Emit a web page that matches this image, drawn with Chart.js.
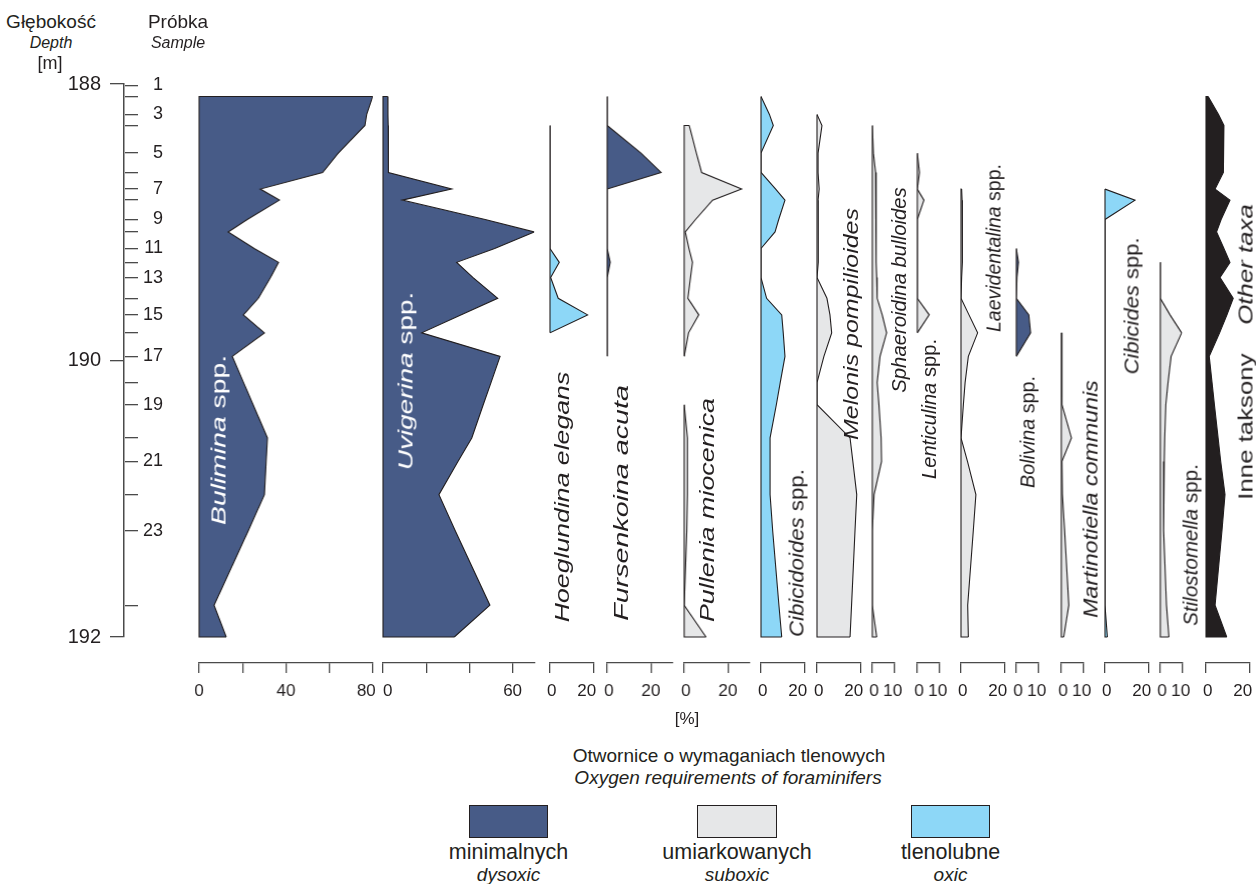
<!DOCTYPE html>
<html>
<head>
<meta charset="utf-8">
<script src="https://cdn.jsdelivr.net/npm/chart.js@4.4.1/dist/chart.umd.min.js"></script>
<style>
  html, body { margin: 0; padding: 0; background: #ffffff; }
  #page { position: relative; width: 1256px; height: 884px; overflow: hidden;
          font-family: "Liberation Sans", Arial, Helvetica, sans-serif; color: #231f20; }
  .box { position: absolute; }
  .txt { position: absolute; white-space: nowrap; line-height: 1; transform: translate(-50%, -50%); }
  .rot { position: absolute; white-space: nowrap; line-height: 1; }
  .swatch { position: absolute; border: 1px solid #231f20; box-sizing: border-box; }
</style>
</head>
<body>
<div id="page"></div>
<script>
// ---------------------------------------------------------------------------
// Data
// ---------------------------------------------------------------------------
// Sample numbers and their depths in metres
const sampleNumbers = [1, 2, 3, 4, 5, 6, 7, 8, 9, 10, 11, 12, 13, 14, 15, 16, 17, 18, 19, 20, 21, 22, 23, 24];
const sampleDepths  = [188.01, 188.09, 188.22, 188.30, 188.50, 188.64, 188.76, 188.84, 188.98, 189.07,
                       189.19, 189.29, 189.40, 189.55, 189.67, 189.80, 189.97, 190.16, 190.32, 190.56,
                       190.73, 190.97, 191.23, 191.77];
// Depth ticks of the main axis [m]
const depthTicks = [188, 190, 192];
// Levels at which the percentage curves are plotted: samples 2-24 and the base of the section
const baseDepth = 192.0;
const levelDepths = sampleDepths.slice(1).concat([baseDepth]);

// Percentages of taxa [%] at each level (null = not plotted)
const bulimina       = [80, 77.2, 76.4, 64.1, 56.9, 28.2, 37.0, 22.2, 13.4, 25.4, 36.6, 32.9, 27.3, 20.4, 30.1, 15.3, 20.5, 24.9, 31.5, 30.9, 30.1, 22.7, 6.9, 12.5];
const uvigerina      = [2.2, 2.3, 2.4, 2.5, 2.5, 31.8, 8.9, 47.3, 70.0, 51.7, 34.1, 41.7, 53.1, 36.0, 17.9, 54.2, 50.0, 46.4, 41.1, 34.7, 25.9, 33.4, 49.5, 33.0];
const hoeglundina    = [null, null, 0, 0, 0, 0, 0, 0, 0, 0, 4.3, 0.3, 3.8, 17.4, 0, null, null, null, null, null, null, null, null, null];
const fursenkoina    = [0, 0, 0, 15.5, 24.7, 0, 0, 0, 0, 0, 1.4, 0, 0, 0, 0, 0, null, null, null, null, null, null, null, null];
const pullenia       = [null, null, 2.3, 5.6, 8.0, 26.3, 13.0, 5.2, 0.5, 2.2, 3.8, 2.9, 1.7, 6.7, 2.0, 0, null, 0, 1.5, 1.5, 1.5, 1.2, 0, 10.0];
const cibicidoides   = [0, 3.9, 5.7, 0, 0, 6.8, 11.1, 8.2, 6.5, 0, 0, 0, 2.6, 9.6, 10.3, 11.1, 8.9, 7.1, 4.2, 4.2, 4.2, 5.4, 8.3, 9.6];
const melonis        = [null, 0, 2.3, 0.5, 0.5, 1.0, 0.5, 0.7, 0.5, 0.7, 0.5, 0, 4.6, 6.0, 6.8, 3.2, 0, 0, 15.3, 16.6, 18.4, 17.6, 16.0, 15.3];
const sphaeroidina   = [null, null, 0, 0.5, 1.5, 1.5, 1.8, 1.8, 1.8, 1.8, 1.8, 2.0, 2.2, 4.5, 6.5, 3.5, 2.2, 3.0, 4.0, 4.2, 0.8, 0, 0, 2.0];
const lenticulina    = [null, null, null, 0, 1.0, 0, 3.0, 0, 0, 0, 0, 0, 0, 5.4, 0, null, null, null, null, null, null, null, null, null];
const laevidentalina = [null, null, null, null, null, 0.3, 0.5, 0.5, 0.8, 0.8, 0.5, 0.3, 0, 3.7, 7.7, 3.4, 1.9, 1.1, 0, 3.0, 6.9, 5.7, 3.1, 3.4];
const bolivina       = [null, null, null, null, null, null, null, null, null, 0, 1.0, 0.3, 0, 5.7, 6.5, 0, null, null, null, null, null, null, null, null];
const martinotiella  = [null, null, null, null, null, null, null, null, null, null, null, null, null, null, 0, 0.3, 0.3, 0.3, 4.6, 0.3, 0.5, 1.5, 3.4, 1.1];
const cibicides      = [null, null, null, null, null, 0, 13.9, 0, 0, 0, 0, 0, 0, 0, 0, 0, 0, 0, 0, 0, 0, 0, 0, 1.1];
const stilostomella  = [null, null, null, null, null, null, null, null, null, null, 0, 0, 0, 4.4, 9.7, 4.9, 3.5, 2.5, 2.0, 1.8, 1.5, 1.5, 2.8, 3.9];
const otherTaxa      = [1.0, 5.8, 8.3, 8.1, 8.0, 4.2, 11.1, 7.0, 4.9, 8.3, 11.1, 6.5, 12.6, 9.7, 6.3, 1.5, 2.8, 3.9, 5.6, 6.8, 8.8, 7.4, 4.2, 9.6];

// ---------------------------------------------------------------------------
// Layout and styles
// ---------------------------------------------------------------------------
const FONT = '"Liberation Sans", Arial, Helvetica, sans-serif';
const INK = '#231f20';
const AXIS = '#4a4a4a';
const COLORS = { dysoxic: '#475b87', suboxic: '#e6e7e8', oxic: '#8dd7f7', other: '#231f20' };

const PX_PER_PCT = 2.16;          // horizontal scale shared by all panels
const Y_TOP = 84;                  // pixel row of 188 m
const Y_BASE = 637;                // pixel row of 192 m
const Y_AXIS = 663;                // pixel row of the percentage axes
const DEPTH_MIN = depthTicks[0];
const DEPTH_MAX = depthTicks[depthTicks.length - 1];
const PX_PER_M = (Y_BASE - Y_TOP) / (DEPTH_MAX - DEPTH_MIN);
const PANEL_DEPTH_MAX = DEPTH_MAX + (Y_AXIS - Y_BASE) / PX_PER_M;

// spacing characters that nudge the labels at the two ends of an axis inwards
const PAD_THIN = '\u2009';
const PAD_FIGURE = '\u2007';

const panels = [
  { values: bulimina,       group: 'dysoxic', left: 199,  max: 80, ticks: [0, 20, 40, 60, 80], labels: [0, 40, 80], startPad: '' },
  { values: uvigerina,      group: 'dysoxic', left: 383,  max: 70, ticks: [0, 20, 40, 60],     labels: [0, 60], startPad: PAD_FIGURE },
  { values: hoeglundina,    group: 'oxic',    left: 550,  max: 20, ticks: [0, 20], labels: [0, 20] },
  { values: fursenkoina,    group: 'dysoxic', left: 607,  max: 30, ticks: [0, 20], labels: [0, 20] },
  { values: pullenia,       group: 'suboxic', left: 684,  max: 30, ticks: [0, 20], labels: [0, 20] },
  { values: cibicidoides,   group: 'oxic',    left: 761,  max: 20, ticks: [0, 20], labels: [0, 20] },
  { values: melonis,        group: 'suboxic', left: 817,  max: 20, ticks: [0, 20], labels: [0, 20] },
  { values: sphaeroidina,   group: 'suboxic', left: 872,  max: 10, ticks: [0, 10], labels: [0, 10] },
  { values: lenticulina,    group: 'suboxic', left: 917,  max: 10, ticks: [0, 10], labels: [0, 10] },
  { values: laevidentalina, group: 'suboxic', left: 961,  max: 20, ticks: [0, 20], labels: [0, 20] },
  { values: bolivina,       group: 'dysoxic', left: 1016, max: 10, ticks: [0, 10], labels: [0, 10] },
  { values: martinotiella,  group: 'suboxic', left: 1061, max: 10, ticks: [0, 10], labels: [0, 10] },
  { values: cibicides,      group: 'oxic',    left: 1105, max: 20, ticks: [0, 20], labels: [0, 20] },
  { values: stilostomella,  group: 'suboxic', left: 1160, max: 10, ticks: [0, 10], labels: [0, 10] },
  { values: otherTaxa,      group: 'other',   left: 1206, max: 20, ticks: [0, 20], labels: [0, 20] }
];

Chart.defaults.font.family = FONT;
Chart.defaults.color = INK;

const page = document.getElementById('page');

// Closes each filled curve: edges back to the zero line and the zero line itself
const closingEdges = {
  id: 'closingEdges',
  afterDatasetsDraw(chart) {
    const ctx = chart.ctx;
    const zero = chart.scales.x.getPixelForValue(0);
    ctx.save();
    ctx.strokeStyle = INK;
    ctx.lineWidth = 1.1;
    ctx.lineJoin = 'miter';
    chart.data.datasets.forEach((ds, i) => {
      const pts = chart.getDatasetMeta(i).data;
      let run = [];
      const flush = () => {
        if (run.length) {
          const a = run[0], b = run[run.length - 1];
          ctx.beginPath();
          ctx.moveTo(b.x, b.y);
          ctx.lineTo(zero, b.y);
          ctx.lineTo(zero, a.y);
          ctx.lineTo(a.x, a.y);
          ctx.stroke();
        }
        run = [];
      };
      pts.forEach(p => { if (p.skip) flush(); else run.push(p); });
      flush();
    });
    ctx.restore();
  }
};

function addBox(left, top, width, height) {
  const div = document.createElement('div');
  div.className = 'box';
  div.style.left = left + 'px';
  div.style.top = top + 'px';
  div.style.width = width + 'px';
  div.style.height = height + 'px';
  const cv = document.createElement('canvas');
  div.appendChild(cv);
  page.appendChild(div);
  return cv;
}

// ---------------------------------------------------------------------------
// Depth / sample axis
// ---------------------------------------------------------------------------
(function depthAxis() {
  const left = 40, axisX = 124, labelRight = 163, padY = 20;
  const cv = addBox(left, Y_TOP - padY, labelRight - left, (Y_BASE - Y_TOP) + 2 * padY);
  new Chart(cv, {
    type: 'line',
    data: { datasets: [] },
    options: {
      responsive: true, maintainAspectRatio: false, animation: false,
      layout: { padding: { top: padY, bottom: padY, left: 0, right: 0 } },
      plugins: { legend: { display: false }, tooltip: { enabled: false } },
      scales: {
        x: { type: 'linear', display: false, min: 0, max: 1 },
        y: {
          type: 'linear', position: 'left', reverse: true, min: DEPTH_MIN, max: DEPTH_MAX,
          afterBuildTicks: s => { s.ticks = depthTicks.map(v => ({ value: v })); },
          afterFit: s => { s.width = axisX - left; s.paddingTop = 0; s.paddingBottom = 0; },
          ticks: { font: { size: 20 }, padding: 9, color: INK, autoSkip: false },
          grid: { drawOnChartArea: false, tickLength: 14, color: AXIS, lineWidth: 1.3 },
          border: { display: true, color: AXIS, width: 1.5 }
        },
        ys: {
          type: 'linear', position: 'right', reverse: true, min: DEPTH_MIN, max: DEPTH_MAX,
          afterBuildTicks: s => { s.ticks = sampleDepths.map(v => ({ value: v })); },
          afterFit: s => { s.width = labelRight - axisX - 1; s.paddingTop = 0; s.paddingBottom = 0; },
          ticks: {
            font: { size: 18 }, padding: 4, color: INK, crossAlign: 'far', autoSkip: false,
            callback: (v, i) => (sampleNumbers[i] % 2 === 1 ? String(sampleNumbers[i]) : '')
          },
          grid: { drawOnChartArea: false, tickLength: 13, color: AXIS, lineWidth: 1.3 },
          border: { display: false }
        }
      }
    }
  });
})();

// ---------------------------------------------------------------------------
// Taxon panels
// ---------------------------------------------------------------------------
function tickLabel(p, v) {
  if (!p.labels.includes(v)) return '';
  const s = String(v);
  if (v === 0) return (p.startPad !== undefined ? p.startPad : PAD_THIN) + s;
  if (v === p.max) return s + (v >= 20 ? PAD_FIGURE + PAD_THIN : PAD_THIN);
  return s;
}

panels.forEach(p => {
  const PADX = 18, PADTOP = 12, AXIS_H = 44;
  const w = p.max * PX_PER_PCT;
  const cv = addBox(p.left - PADX, Y_TOP - PADTOP, w + 2 * PADX, (Y_AXIS - Y_TOP) + PADTOP + AXIS_H);
  new Chart(cv, {
    type: 'line',
    data: {
      datasets: [{
        data: levelDepths.map((d, i) => ({ x: p.values[i], y: d })),
        backgroundColor: COLORS[p.group],
        borderColor: INK,
        borderWidth: 1.1,
        borderJoinStyle: 'miter',
        fill: 'origin',
        spanGaps: false,
        pointRadius: 0,
        tension: 0
      }]
    },
    options: {
      indexAxis: 'y',
      responsive: true, maintainAspectRatio: false, animation: false,
      layout: { padding: { left: PADX, right: PADX, top: PADTOP, bottom: 0 } },
      plugins: { legend: { display: false }, tooltip: { enabled: false } },
      scales: {
        x: {
          type: 'linear', position: 'bottom', min: 0, max: p.max,
          afterBuildTicks: s => { s.ticks = p.ticks.map(v => ({ value: v })); },
          afterFit: s => { s.height = AXIS_H; s.paddingLeft = 0; s.paddingRight = 0; },
          ticks: {
            font: { size: 17 }, color: INK, padding: 8, maxRotation: 0, autoSkip: false,
            callback: v => tickLabel(p, v)
          },
          grid: { drawOnChartArea: false, tickLength: 10, color: AXIS, lineWidth: 1.3 },
          border: { display: true, color: AXIS, width: 1.3 }
        },
        y: { type: 'linear', reverse: true, min: DEPTH_MIN, max: PANEL_DEPTH_MAX, display: false }
      }
    },
    plugins: [closingEdges]
  });
});

// ---------------------------------------------------------------------------
// Text
// ---------------------------------------------------------------------------
function addText(html, cx, cy, size, extra) {
  const d = document.createElement('div');
  d.className = 'txt';
  d.innerHTML = html;
  d.style.left = cx + 'px';
  d.style.top = cy + 'px';
  d.style.fontSize = size + 'px';
  if (extra) Object.assign(d.style, extra);
  page.appendChild(d);
}

// Vertical taxon name, reading upwards, stretched to the given length
function addRotated(html, cx, cy, length, color) {
  const d = document.createElement('div');
  d.className = 'rot';
  d.innerHTML = html;
  d.style.left = cx + 'px';
  d.style.top = cy + 'px';
  d.style.fontSize = '21px';
  d.style.color = color || INK;
  page.appendChild(d);
  const stretch = length / d.offsetWidth;
  d.style.transform = 'translate(-50%, -50%) rotate(-90deg) scaleX(' + stretch.toFixed(3) + ')';
}

// headers
addText('Głębokość', 51, 21, 19);
addText('<i>Depth</i>', 51, 43, 16);
addText('[m]', 50, 63, 18);
addText('Próbka', 178, 21, 19);
addText('<i>Sample</i>', 178, 43, 16);

// taxon names: text, centre x, centre y, length
const taxonLabels = [
  ['<i>Bulimina</i> spp.',            218,  440, 170, '#ffffff'],
  ['<i>Uvigerina</i> spp.',           405,  381, 178, '#ffffff'],
  ['<i>Hoeglundina elegans</i>',      561,  497, 250],
  ['<i>Fursenkoina acuta</i>',        620,  503, 236],
  ['<i>Pullenia miocenica</i>',       706,  510, 224],
  ['<i>Cibicidoides</i> spp.',        796,  553, 168],
  ['<i>Melonis pompilioides</i>',     850,  324, 232],
  ['<i>Sphaeroidina bulloides</i>',   898,  290, 206],
  ['<i>Lenticulina</i> spp.',         928,  409, 140],
  ['<i>Laevidentalina</i> spp.',      993,  248, 168],
  ['<i>Bolivina</i> spp.',            1027, 432, 112],
  ['<i>Martinotiella communis</i>',   1090, 499, 238],
  ['<i>Cibicides</i> spp.',           1131, 306, 137],
  ['<i>Stilostomella</i> spp.',       1190, 545, 162],
  ['Inne taksony&nbsp;&nbsp;&nbsp;&nbsp;<i>Other taxa</i>', 1245, 352, 295]
];
taxonLabels.forEach(t => addRotated(t[0], t[1], t[2], t[3], t[4]));

// axis caption and legend
addText('[%]', 687, 718, 17);
addText('Otwornice o wymaganiach tlenowych', 729, 755, 19);
addText('<i>Oxygen requirements of foraminifers</i>', 728, 777, 19);

const legendItems = [
  { group: 'dysoxic', x: 469, w: 79, pl: 'minimalnych',   en: 'dysoxic' },
  { group: 'suboxic', x: 697, w: 80, pl: 'umiarkowanych', en: 'suboxic' },
  { group: 'oxic',    x: 911, w: 79, pl: 'tlenolubne',    en: 'oxic' }
];
legendItems.forEach(it => {
  const sw = document.createElement('div');
  sw.className = 'swatch';
  sw.style.left = it.x + 'px';
  sw.style.top = '805px';
  sw.style.width = it.w + 'px';
  sw.style.height = '33px';
  sw.style.background = COLORS[it.group];
  page.appendChild(sw);
  addText(it.pl, it.x + it.w / 2, 853, 21.5);
  addText('<i>' + it.en + '</i>', it.x + it.w / 2, 874, 19);
});
</script>
</body>
</html>
